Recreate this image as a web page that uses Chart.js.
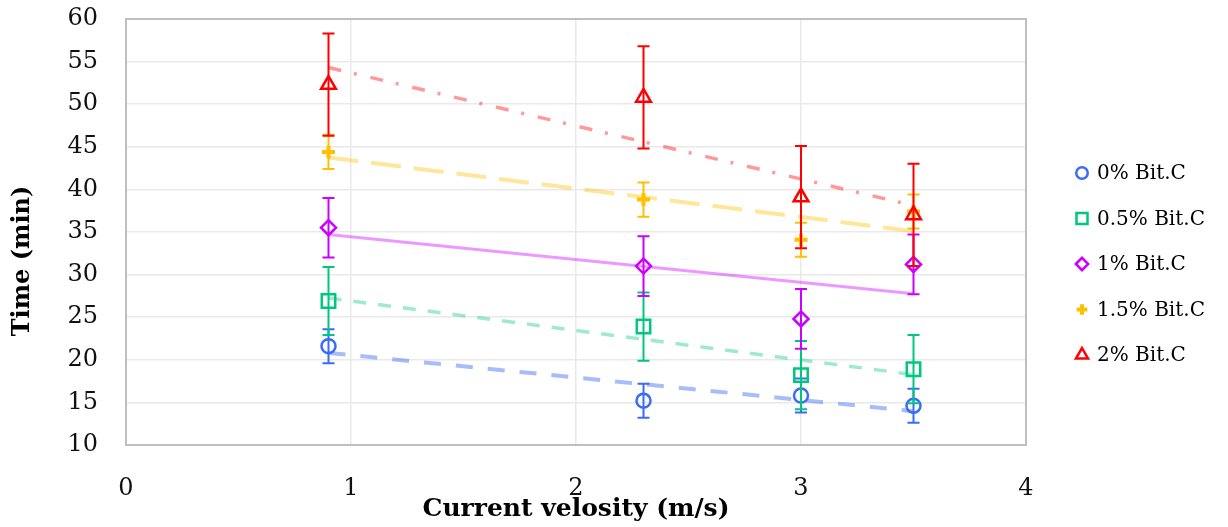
<!DOCTYPE html>
<html>
<head>
<meta charset="utf-8">
<title>Time vs current velocity</title>
<script src="https://cdn.jsdelivr.net/npm/chart.js@4.4.1/dist/chart.umd.min.js"></script>
<style>
  html, body { margin: 0; padding: 0; background: #fff; }
  #wrap { width: 1228px; height: 527px; }
</style>
</head>
<body>
<div id="wrap"><canvas id="velocityChart" width="1228" height="527"></canvas></div>
<script>
// measured data: time for each bitumen content, at four current velocities
const velocity = [0.9, 2.3, 3.0, 3.5];
const labels = ["0% Bit.C", "0.5% Bit.C", "1% Bit.C", "1.5% Bit.C", "2% Bit.C"];
const time0 = [21.6, 15.2, 15.8, 14.6];
const time05 = [26.9, 23.9, 18.2, 18.9];
const time1 = [35.5, 31.0, 24.8, 31.2];
const time15 = [44.4, 38.8, 34.1, 37.4];
const time2 = [52.3, 50.8, 39.1, 37.0];
const errors = [2, 4, 3.5, 2, 6];
const xTicks = [0, 1, 2, 3, 4];
const yTicks = [10, 15, 20, 25, 30, 35, 40, 45, 50, 55, 60];

const FONT = "'DejaVu Serif', 'Liberation Serif', serif";

// least squares line through the points, drawn between first and last velocity
function linearTrend(xs, ys) {
    const n = xs.length;
    const mx = xs.reduce((a, b) => a + b, 0) / n;
    const my = ys.reduce((a, b) => a + b, 0) / n;
    let sxy = 0, sxx = 0;
    for (let i = 0; i < n; i++) {
        sxy += (xs[i] - mx) * (ys[i] - my);
        sxx += (xs[i] - mx) * (xs[i] - mx);
    }
    const slope = sxy / sxx;
    const x0 = Math.min(...xs), x1 = Math.max(...xs);
    return [
        { x: x0, y: my + slope * (x0 - mx) },
        { x: x1, y: my + slope * (x1 - mx) }
    ];
}

function points(ys) {
    return velocity.map((v, i) => ({ x: v, y: ys[i] }));
}

const series = [
    { times: time0, color: "#3b6cf4", trend: "rgba(59,108,244,0.45)", style: "circle", radius: 7, dash: [17, 15], trendWidth: 4 },
    { times: time05, color: "#00c77f", trend: "rgba(0,199,127,0.38)", style: "rect", radius: 9.5, dash: [13, 12], trendWidth: 3.5 },
    { times: time1, color: "#cc00ff", trend: "rgba(204,0,255,0.40)", style: "rectRot", radius: 7.5, dash: [], trendWidth: 3 },
    { times: time15, color: "#ffc000", trend: "rgba(255,192,0,0.40)", style: "cross", radius: 6.5, dash: [30, 13], trendWidth: 4 },
    { times: time2, color: "#ff0000", trend: "rgba(255,0,0,0.40)", style: "triangle", radius: 8.5, dash: [13, 13, 3, 14], trendWidth: 3.5 }
];

const datasets = [];
series.forEach((s, i) => {
    datasets.push({
        type: "scatter",
        label: labels[i],
        data: points(s.times),
        errorBars: errors[i],
        borderColor: s.color,
        backgroundColor: "rgba(0,0,0,0)",
        pointStyle: s.style,
        pointRadius: s.radius,
        pointHoverRadius: s.radius,
        pointBorderWidth: s.style === "cross" ? 4 : 2.5,
        showLine: false,
        order: 5 - i
    });
    datasets.push({
        type: "line",
        label: labels[i] + " trend",
        data: linearTrend(velocity, s.times),
        borderColor: s.trend,
        borderWidth: s.trendWidth,
        borderDash: s.dash,
        pointRadius: 0,
        fill: false,
        order: 10
    });
});

// vertical error bars, painted just before each series' markers
const errorBarPlugin = {
    id: "errorBars",
    beforeDatasetDraw(chart, args) {
        const ds = chart.data.datasets[args.index];
        if (ds.errorBars === undefined) return;
        const ctx = chart.ctx;
        const y = chart.scales.y;
        ctx.save();
        ctx.strokeStyle = ds.borderColor;
        ctx.lineWidth = 2;
        args.meta.data.forEach((pt, j) => {
            const v = ds.data[j].y;
            const top = y.getPixelForValue(v + ds.errorBars);
            const bot = y.getPixelForValue(v - ds.errorBars);
            ctx.beginPath();
            ctx.moveTo(pt.x, top);
            ctx.lineTo(pt.x, bot);
            ctx.moveTo(pt.x - 6, top);
            ctx.lineTo(pt.x + 6, top);
            ctx.moveTo(pt.x - 6, bot);
            ctx.lineTo(pt.x + 6, bot);
            ctx.stroke();
        });
        ctx.restore();
    }
};

// plot frame, y title and the legend column on the right
const framePlugin = {
    id: "frame",
    beforeDatasetsDraw(chart) {
        const { ctx, chartArea: a } = chart;
        ctx.save();
        ctx.strokeStyle = "#bfbfbf";
        ctx.lineWidth = 2;
        ctx.strokeRect(a.left, a.top, a.right - a.left, a.bottom - a.top);
        ctx.restore();
    },
    afterDraw(chart) {
        const ctx = chart.ctx;
        ctx.save();
        ctx.translate(23, 261);
        ctx.rotate(-Math.PI / 2);
        ctx.font = "bold 24px " + FONT;
        ctx.fillStyle = "#000";
        ctx.textAlign = "center";
        ctx.textBaseline = "middle";
        ctx.fillText("Time (min)", 0, 0);
        ctx.restore();

        ctx.save();
        ctx.font = "20px " + FONT;
        ctx.textBaseline = "middle";
        ctx.textAlign = "left";
        let row = 0;
        chart.data.datasets.forEach(ds => {
            if (ds.errorBars === undefined) return;
            const cy = 173 + row * 45.5;
            ctx.strokeStyle = ds.borderColor;
            ctx.fillStyle = "rgba(0,0,0,0)";
            ctx.lineWidth = ds.pointBorderWidth;
            Chart.helpers.drawPoint(ctx, {
                pointStyle: ds.pointStyle,
                radius: ds.pointRadius * 0.82,
                borderWidth: ds.pointBorderWidth,
                rotation: 0
            }, 1082, cy);
            ctx.fillStyle = "#000";
            ctx.fillText(ds.label, 1097, cy + 1);
            row++;
        });
        ctx.restore();
    }
};

// keep tick padding from pushing the plot area inward
function noScalePadding(s) {
    s.paddingTop = 0;
    s.paddingBottom = 0;
    s.paddingLeft = 0;
    s.paddingRight = 0;
}

const ctx = document.getElementById("velocityChart").getContext("2d");
const velocityChart = new Chart(ctx, {
    data: { datasets: datasets },
    options: {
        responsive: false,
        animation: false,
        layout: { padding: { top: 19, right: 202, bottom: 0, left: 0 } },
        plugins: {
            legend: { display: false },
            tooltip: { enabled: false }
        },
        scales: {
            x: {
                type: "linear",
                min: 0,
                max: 4,
                afterBuildTicks: s => { s.ticks = xTicks.map(v => ({ value: v })); },
                afterFit: s => { s.height = 82; noScalePadding(s); },
                ticks: { color: "#111", padding: 29, font: { family: FONT, size: 24 } },
                grid: { color: "#e9e9e9", lineWidth: 1.5, drawTicks: false },
                border: { display: false },
                title: {
                    display: true,
                    text: "Current velosity (m/s)",
                    color: "#000",
                    font: { family: FONT, size: 25, weight: "bold" },
                    padding: { top: 0, bottom: 3 }
                }
            },
            y: {
                type: "linear",
                min: 10,
                max: 60,
                afterBuildTicks: s => { s.ticks = yTicks.map(v => ({ value: v })); },
                afterFit: s => { s.width = 126; noScalePadding(s); },
                ticks: { color: "#111", padding: 28, font: { family: FONT, size: 24 } },
                grid: { color: "#e9e9e9", lineWidth: 1.5, drawTicks: false },
                border: { display: false }
            }
        }
    },
    plugins: [errorBarPlugin, framePlugin]
});
</script>
</body>
</html>
